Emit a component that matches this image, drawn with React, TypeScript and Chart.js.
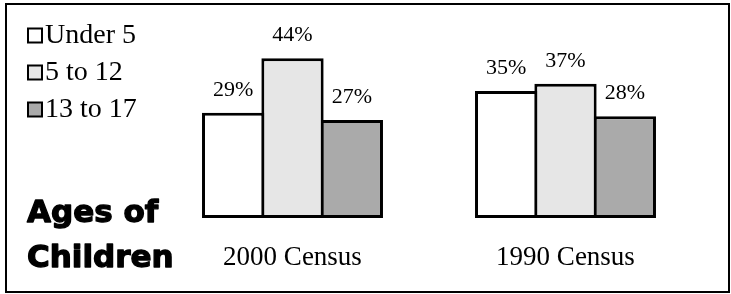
import React, { useEffect, useRef } from "react";
import { Chart, registerables } from "chart.js";

Chart.register(...registerables);

const categories = ["2000 Census", "1990 Census"];
const seriesNames = ["Under 5", "5 to 12", "13 to 17"];
const under5 = [29, 35];
const age5to12 = [44, 37];
const age13to17 = [27, 28];
const seriesColors = ["#ffffff", "#e6e6e6", "#aaaaaa"];
const titleLines = ["Ages of", "Children"];

const SERIF = "'Liberation Serif', 'Times New Roman', serif";

const decorPlugin = {
  id: "decor",
  afterDraw(chart: any) {
    const ctx = chart.ctx;
    ctx.save();
    // outer frame
    ctx.strokeStyle = "#000";
    ctx.lineWidth = 2;
    ctx.strokeRect(6, 4, 723, 288);

    // value labels above bars
    ctx.fillStyle = "#000";
    ctx.font = `22px ${SERIF}`;
    ctx.textAlign = "center";
    ctx.textBaseline = "alphabetic";
    chart.data.datasets.forEach((ds: any, di: number) => {
      const meta = chart.getDatasetMeta(di);
      meta.data.forEach((bar: any, i: number) => {
        ctx.fillText(`${ds.data[i]}%`, bar.x, bar.y - 17);
      });
    });

    // legend
    ctx.textAlign = "left";
    ctx.font = `28px ${SERIF}`;
    chart.data.datasets.forEach((ds: any, di: number) => {
      const y0 = 28.5 + 37 * di;
      ctx.fillStyle = ds.backgroundColor;
      ctx.fillRect(28, y0, 14, 14);
      ctx.lineWidth = 2;
      ctx.strokeStyle = "#000";
      ctx.strokeRect(28, y0, 14, 14);
      ctx.fillStyle = "#000";
      ctx.fillText(ds.label, 45, 43 + 37 * di);
    });

    // title
    ctx.font = `bold 31px 'DejaVu Sans', sans-serif`;
    ctx.lineWidth = 1.3;
    ctx.lineJoin = "round";
    ctx.strokeStyle = "#000";
    ctx.fillText(titleLines[0], 27, 222);
    ctx.strokeText(titleLines[0], 27, 222);
    ctx.fillText(titleLines[1], 27, 267);
    ctx.strokeText(titleLines[1], 27, 267);
    ctx.restore();
  },
};

export default function App() {
  const ref = useRef<HTMLCanvasElement>(null);
  useEffect(() => {
    const values = [under5, age5to12, age13to17];
    const chart = new Chart(ref.current as HTMLCanvasElement, {
      type: "bar",
      data: {
        labels: categories,
        datasets: seriesNames.map((name, i) => ({
          label: name,
          data: values[i],
          backgroundColor: seriesColors[i],
          borderColor: "#000",
          borderWidth: 3,
          borderSkipped: false,
          categoryPercentage: 0.652,
          barPercentage: 1.05,
        })),
      },
      options: {
        responsive: false,
        animation: false,
        layout: { padding: { left: 156, right: 29, top: 36.5, bottom: 0 } },
        plugins: {
          legend: { display: false },
          tooltip: { enabled: false },
          title: { display: false },
        },
        scales: {
          x: {
            grid: { display: false, drawTicks: false },
            border: { display: false },
            ticks: {
              padding: 24,
              color: "#000",
              font: { family: SERIF, size: 27 },
            },
            afterFit: (s: any) => {
              s.height = 76;
            },
          },
          y: {
            display: false,
            min: 0,
            max: 50,
          },
        },
      },
      plugins: [decorPlugin],
    });
    return () => chart.destroy();
  }, []);
  return (
    <div style={{ position: "fixed", left: 0, top: 0, width: 731, height: 294, background: "#fff" }}>
      <canvas ref={ref} width={731} height={294} style={{ display: "block" }} />
    </div>
  );
}
